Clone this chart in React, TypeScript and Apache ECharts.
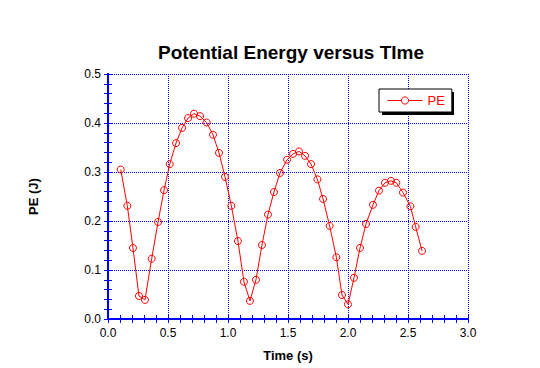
import React, { useEffect, useRef } from "react";
import * as echarts from "echarts";

const times = [
  0.106, 0.161, 0.208, 0.258, 0.308, 0.364, 0.417, 0.467, 0.514, 0.567,
  0.617, 0.667, 0.717, 0.767, 0.822, 0.875, 0.925, 0.975, 1.028, 1.083,
  1.133, 1.183, 1.233, 1.283, 1.333, 1.383, 1.433, 1.492, 1.542, 1.592,
  1.642, 1.692, 1.745, 1.792, 1.847, 1.903, 1.95, 2.0, 2.05, 2.1,
  2.15, 2.208, 2.258, 2.308, 2.358, 2.403, 2.458, 2.52, 2.564, 2.617,
];
const pe = [
  0.305, 0.231, 0.145, 0.047, 0.039, 0.123, 0.198, 0.263, 0.316, 0.359,
  0.39, 0.41, 0.419, 0.414, 0.401, 0.376, 0.339, 0.29, 0.231, 0.159,
  0.076, 0.037, 0.08, 0.151, 0.213, 0.259, 0.298, 0.325, 0.337, 0.342,
  0.333, 0.316, 0.285, 0.245, 0.19, 0.126, 0.049, 0.03, 0.084, 0.145,
  0.194, 0.233, 0.262, 0.278, 0.282, 0.278, 0.258, 0.23, 0.188, 0.139,
];
const seriesName = "PE";
const titleText = "Potential Energy versus TIme";
const xName = "Time (s)";
const yName = "PE (J)";

const BLUE = "#0000ff";
const RED = "#ff0000";
const FONT = "'Liberation Sans', Arial, Helvetica, sans-serif";

export default function App() {
  const ref = useRef<HTMLDivElement>(null);
  useEffect(() => {
    if (!ref.current) return;
    const chart = echarts.init(ref.current, null, { renderer: "svg" });
    const axisCommon = {
      type: "value" as const,
      axisLine: { show: true, lineStyle: { color: BLUE, width: 2 } },
      axisTick: { show: true, inside: true, length: 4, lineStyle: { color: BLUE, width: 1 } },
      minorTick: { show: true, splitNumber: 5, length: 4, lineStyle: { color: BLUE, width: 1 } },
    };
    const fmt = (v: number) => v.toFixed(1);
    chart.setOption({
      animation: false,
      backgroundColor: "#ffffff",
      textStyle: { fontFamily: FONT },
      title: {
        text: titleText,
        left: 291,
        top: 43,
        textAlign: "center",
        padding: 0,
        textStyle: { fontFamily: FONT, fontWeight: "bold", fontSize: 19, color: "#000" },
      },
      grid: { left: 108, right: 72, top: 74, bottom: 49, containLabel: false },
      legend: {
        data: [seriesName],
        left: 379,
        top: 89,
        orient: "horizontal",
        padding: [5, 7, 5, 8],
        itemWidth: 35,
        itemHeight: 9,
        backgroundColor: "#ffffff",
        borderColor: "#000000",
        borderWidth: 1,
        borderRadius: 0,
        z: 10,
        lineStyle: { width: 1, color: RED },
        itemStyle: { color: "#ffffff", borderColor: RED, borderWidth: 1 },
        textStyle: { color: RED, fontSize: 13, fontFamily: FONT },
      },
      graphic: [
        {
          type: "rect",
          left: 382,
          top: 92,
          shape: { width: 72, height: 23 },
          style: { fill: "#000000" },
          z: 5,
        },
      ],
      xAxis: [
        {
          ...axisCommon,
          position: "bottom",
          min: 0,
          max: 3,
          interval: 0.5,
          name: xName,
          nameLocation: "middle",
          nameGap: 30,
          nameTextStyle: { fontFamily: FONT, fontWeight: "bold", fontSize: 13, color: "#000" },
          axisLabel: { show: true, margin: 8, fontSize: 12, color: "#000", fontFamily: FONT, formatter: fmt },
          splitLine: { show: true, lineStyle: { color: BLUE, width: 1, type: [1, 1] } },
        },
        {
          ...axisCommon,
          position: "top",
          min: 0,
          max: 3,
          interval: 0.5,
          axisLabel: { show: false },
          splitLine: { show: false },
        },
      ],
      yAxis: [
        {
          ...axisCommon,
          position: "left",
          min: 0,
          max: 0.5,
          interval: 0.1,
          name: yName,
          nameLocation: "middle",
          nameGap: 68,
          nameRotate: 90,
          nameTextStyle: { fontFamily: FONT, fontWeight: "bold", fontSize: 13, color: "#000" },
          axisLabel: { show: true, margin: 7, fontSize: 12, color: "#000", fontFamily: FONT, formatter: fmt },
          splitLine: { show: true, lineStyle: { color: BLUE, width: 1, type: [1, 1] } },
        },
        {
          ...axisCommon,
          position: "right",
          min: 0,
          max: 0.5,
          interval: 0.1,
          axisLabel: { show: false },
          splitLine: { show: false },
        },
      ],
      series: [
        {
          name: seriesName,
          type: "line",
          xAxisIndex: 0,
          yAxisIndex: 0,
          data: times.map((t, i) => [t, pe[i]]),
          symbol: "circle",
          symbolSize: 7,
          showAllSymbol: true,
          color: RED,
          lineStyle: { color: RED, width: 1 },
          itemStyle: { color: "transparent", borderColor: RED, borderWidth: 1 },
          emphasis: { disabled: true },
          z: 3,
        },
      ],
    });
    return () => chart.dispose();
  }, []);
  return (
    <div
      ref={ref}
      style={{ position: "fixed", left: 0, top: 0, width: 540, height: 368, background: "#fff" }}
    />
  );
}
